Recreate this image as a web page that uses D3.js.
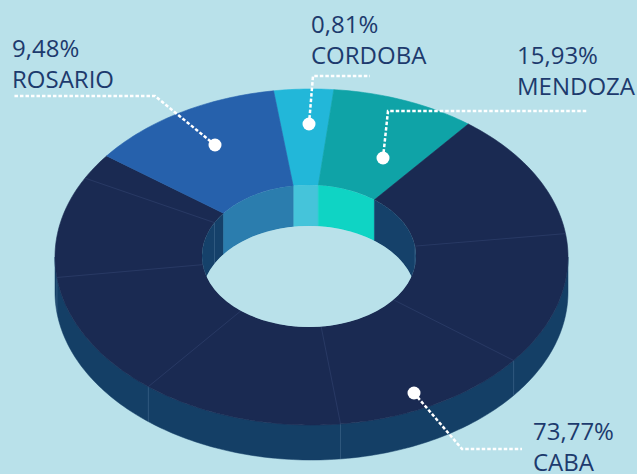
<!DOCTYPE html>
<html>
<head>
<meta charset="utf-8">
<script src="https://cdn.jsdelivr.net/npm/d3@7"></script>
<style>
  body { margin: 0; background: #b9e1ea; }
  svg { display: block; }
</style>
</head>
<body>
<svg id="chart"></svg>
<script>
// slices in drawing order, clockwise from the Cordoba/Rosario edge
var names = ['CORDOBA', 'MENDOZA', 'CABA', 'ROSARIO'];
var percents = [0.81, 15.93, 73.77, 9.48];           // printed on the labels
var shares = [3.75, 9.08, 74.81, 12.36];             // slice sizes as drawn
var topColors = ['#22b7d9', '#0fa3a7', '#1a2a52', '#2661ac'];
var wallColors = ['#45c4da', '#0fd4c4', '#15416a', '#2b7dae'];
var seams = [82, 128, 173.5, 219.5, 263, 298];       // faint facet lines inside CABA (deg)

var width = 637, height = 474;
var bg = '#b9e1ea';
var rad = Math.PI / 180;
var start = -8.5 * rad;

var outer = {cx: 311.5, cy: 257, rx: 256.5, ry: 168, h: 35};
var inner = {cx: 309, cy: 256, rx: 107, ry: 71, h: 41};

// label layout: text anchor, dot and elbow of the dotted leader
var callouts = [
	{x: 311, y: 33, dot: [309, 124], elbow: [313, 76], end: 370},
	{x: 517, y: 64, dot: [383, 158], elbow: [388, 111], end: 588},
	{x: 533, y: 440, dot: [414, 393], elbow: [462, 449], end: 522},
	{x: 12, y: 57, dot: [215, 145], elbow: [155, 96], end: 13}
];

var svg = d3.select('#chart')
	.attr('width', width)
	.attr('height', height);

svg.append('rect')
	.attr('width', width)
	.attr('height', height)
	.attr('fill', bg);

var pie = d3.pie()
	.sort(null)
	.value(function(d) { return d; })
	.startAngle(start)
	.endAngle(start + 2 * Math.PI);

var arcs = pie(shares);

function pt(e, a, dy) {
	return [e.cx + e.rx * Math.sin(a), e.cy - e.ry * Math.cos(a) + (dy || 0)];
}

function arcPts(e, a0, a1, dy) {
	var n = Math.max(2, Math.ceil(Math.abs(a1 - a0) / (1 * rad)));
	return d3.range(n + 1).map(function(i) { return pt(e, a0 + (a1 - a0) * i / n, dy); });
}

// part of [a0, a1] that falls inside [lo, hi] (any turn)
function clipRange(a0, a1, lo, hi) {
	var out = [];
	[-1, 0, 1].forEach(function(k) {
		var l = lo + 2 * Math.PI * k, h = hi + 2 * Math.PI * k;
		var s = Math.max(a0, l), t = Math.min(a1, h);
		if (t > s) out.push([s, t]);
	});
	return out;
}

var line = d3.line();

// outer side, front half only
var gSide = svg.append('g');
arcs.forEach(function(d, i) {
	clipRange(d.startAngle, d.endAngle, 90 * rad, 270 * rad).forEach(function(r) {
		var p = arcPts(outer, r[0], r[1], 0).concat(arcPts(outer, r[1], r[0], outer.h));
		gSide.append('path')
			.attr('d', line(p) + 'Z')
			.attr('fill', d3.color(wallColors[i]).darker(0.1))
			.attr('stroke', d3.color(wallColors[i]).darker(0.1))
			.attr('stroke-width', 0.5);
	});
});
seams.forEach(function(s) {
	var a = s * rad;
	if (a > 90 * rad && a < 270 * rad) {
		var p = pt(outer, a);
		gSide.append('line')
			.attr('x1', p[0]).attr('y1', p[1])
			.attr('x2', p[0]).attr('y2', p[1] + outer.h)
			.attr('stroke', '#5a7fa3')
			.attr('stroke-opacity', 0.5)
			.attr('stroke-width', 0.8);
	}
});

// top faces
var gTop = svg.append('g');
arcs.forEach(function(d, i) {
	var p = arcPts(outer, d.startAngle, d.endAngle, 0)
		.concat(arcPts(inner, d.endAngle, d.startAngle, 0));
	gTop.append('path')
		.attr('d', line(p) + 'Z')
		.attr('fill', topColors[i])
		.attr('stroke', topColors[i])
		.attr('stroke-width', 0.6);
});
seams.forEach(function(s) {
	var a = s * rad;
	var p0 = pt(inner, a), p1 = pt(outer, a);
	gTop.append('line')
		.attr('x1', p0[0]).attr('y1', p0[1])
		.attr('x2', p1[0]).attr('y2', p1[1])
		.attr('stroke', '#3f5280')
		.attr('stroke-opacity', 0.55)
		.attr('stroke-width', 0.7);
});

// inner wall seen through the hole (far half)
svg.append('clipPath')
	.attr('id', 'holeClip')
	.append('ellipse')
	.attr('cx', inner.cx)
	.attr('cy', inner.cy)
	.attr('rx', inner.rx)
	.attr('ry', inner.ry);

var gWall = svg.append('g').attr('clip-path', 'url(#holeClip)');
arcs.forEach(function(d, i) {
	clipRange(d.startAngle, d.endAngle, -90 * rad, 90 * rad).forEach(function(r) {
		var p = arcPts(inner, r[0], r[1], 0).concat(arcPts(inner, r[1], r[0], inner.h));
		gWall.append('path')
			.attr('d', line(p) + 'Z')
			.attr('fill', wallColors[i])
			.attr('stroke', wallColors[i])
			.attr('stroke-width', 0.5);
	});
});
seams.forEach(function(s) {
	var a = s * rad;
	if (Math.cos(a) > 0) {
		var p = pt(inner, a);
		gWall.append('line')
			.attr('x1', p[0]).attr('y1', p[1])
			.attr('x2', p[0]).attr('y2', p[1] + inner.h)
			.attr('stroke', '#5a7fa3')
			.attr('stroke-opacity', 0.5)
			.attr('stroke-width', 0.8);
	}
});
gWall.append('ellipse')
	.attr('cx', inner.cx)
	.attr('cy', inner.cy + inner.h)
	.attr('rx', inner.rx)
	.attr('ry', inner.ry)
	.attr('fill', bg);

// callouts
var fmt = d3.format('.2f');
var gLab = svg.append('g');

callouts.forEach(function(c, i) {
	gLab.append('path')
		.attr('d', 'M' + c.dot + 'L' + c.elbow + 'H' + c.end)
		.attr('fill', 'none')
		.attr('stroke', '#ffffff')
		.attr('stroke-width', 2.5)
		.attr('stroke-dasharray', '3.5,2');

	gLab.append('circle')
		.attr('cx', c.dot[0])
		.attr('cy', c.dot[1])
		.attr('r', 6.5)
		.attr('fill', '#ffffff');

	var t = gLab.append('text')
		.attr('x', c.x)
		.attr('y', c.y)
		.attr('fill', '#1d3a6d')
		.style('font-family', '"Open Sans", sans-serif')
		.style('font-size', '24px');
	t.append('tspan')
		.attr('x', c.x)
		.text(fmt(percents[i]).replace('.', ',') + '%');
	t.append('tspan')
		.attr('x', c.x)
		.attr('dy', 31)
		.text(names[i]);
});
</script>
</body>
</html>
